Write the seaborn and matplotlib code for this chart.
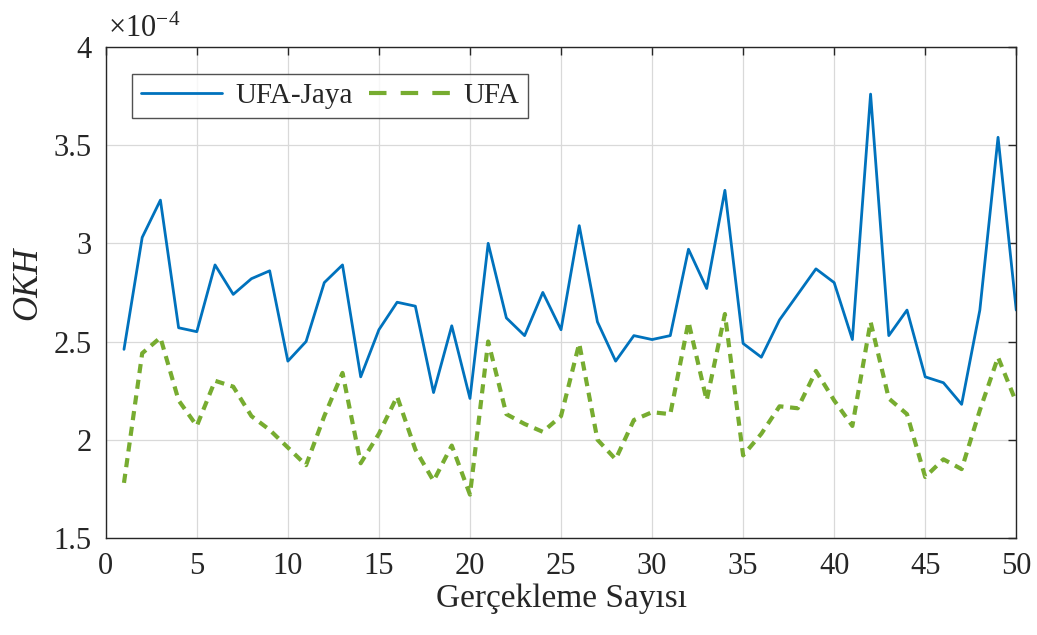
import numpy as np
import pandas as pd
import matplotlib
matplotlib.use("Agg")
import matplotlib.pyplot as plt
import seaborn as sns
from matplotlib.ticker import FuncFormatter

# ==========================================
# DATA  (OKH values, x 1e-4)
# ==========================================
runs = list(range(1, 51))

ufa_jaya = [2.46, 3.03, 3.22, 2.57, 2.55, 2.89, 2.74, 2.82, 2.86, 2.40,
            2.50, 2.80, 2.89, 2.32, 2.56, 2.70, 2.68, 2.24, 2.58, 2.21,
            3.00, 2.62, 2.53, 2.75, 2.56, 3.09, 2.60, 2.40, 2.53, 2.51,
            2.53, 2.97, 2.77, 3.27, 2.49, 2.42, 2.61, 2.74, 2.87, 2.80,
            2.51, 3.76, 2.53, 2.66, 2.32, 2.29, 2.18, 2.66, 3.54, 2.66]

ufa = [1.78, 2.44, 2.52, 2.20, 2.07, 2.30, 2.27, 2.12, 2.05, 1.96,
       1.87, 2.12, 2.34, 1.88, 2.03, 2.22, 1.95, 1.79, 1.97, 1.72,
       2.50, 2.13, 2.08, 2.04, 2.12, 2.49, 2.00, 1.90, 2.10, 2.14,
       2.13, 2.60, 2.20, 2.64, 1.92, 2.03, 2.17, 2.16, 2.35, 2.20,
       2.07, 2.60, 2.21, 2.13, 1.81, 1.90, 1.85, 2.15, 2.42, 2.19]

series_names = ["UFA-Jaya", "UFA"]
colors = {"UFA-Jaya": "#0072BD", "UFA": "#77AC30"}

df = pd.DataFrame({
    "run": runs * 2,
    "okh": ufa_jaya + ufa,
    "method": [series_names[0]] * len(runs) + [series_names[1]] * len(runs),
})

# ==========================================
# PLOT
# ==========================================
sns.set_style("white")
plt.rcParams["font.family"] = ["Liberation Serif", "DejaVu Serif"]
plt.rcParams["mathtext.fontset"] = "custom"
plt.rcParams["mathtext.rm"] = "Liberation Serif"
plt.rcParams["mathtext.it"] = "Liberation Serif:italic"

TXT = "#262626"

fig = plt.figure(figsize=(10.37, 6.35), dpi=100)
ax = fig.add_axes([0.102, 0.153, 0.878, 0.773])

sns.lineplot(data=df, x="run", y="okh", hue="method", style="method",
             hue_order=series_names, style_order=series_names,
             palette=colors, dashes={"UFA-Jaya": "", "UFA": (2.2, 1.6)},
             ax=ax, legend=False)
ax.lines[0].set_linewidth(2.0)
ax.lines[1].set_linewidth(3.0)

ax.set_xlim(0, 50)
ax.set_ylim(1.5, 4)
ax.set_xticks(np.arange(0, 51, 5))
ax.set_yticks(np.arange(1.5, 4.01, 0.5))
ax.yaxis.set_major_formatter(FuncFormatter(lambda v, p: f"{v:g}"))

ax.grid(True, color="#d9d9d9", linewidth=0.9)
ax.tick_params(direction="in", top=True, right=True, length=5.5,
               labelsize=22, colors=TXT, width=1.0, pad=10)
for s in ax.spines.values():
    s.set_color(TXT)
    s.set_linewidth(1.0)

ax.set_xlabel("Gerçekleme Sayısı", fontsize=24, color=TXT, labelpad=2)
ax.set_ylabel("OKH", fontsize=25, style="italic", color=TXT)
ax.yaxis.set_label_coords(-0.068, 0.518)

ax.text(0.002, 1.02, r"$\times 10^{-4}$", transform=ax.transAxes,
        fontsize=22, color=TXT, va="baseline", ha="left")

handles = [plt.Line2D([], [], color=colors["UFA-Jaya"], lw=2.0),
           plt.Line2D([], [], color=colors["UFA"], lw=3.0, ls=(0, (4.2, 3.4)))]
leg = ax.legend(handles, series_names, loc="upper left", ncol=2,
                bbox_to_anchor=(0.0286, 0.945), fontsize=21, frameon=True,
                fancybox=False, edgecolor=TXT, handlelength=2.8,
                columnspacing=0.55, handletextpad=0.45, borderpad=0.3,
                borderaxespad=0)
leg.get_frame().set_linewidth(1.0)
for t in leg.get_texts():
    t.set_color(TXT)

fig.savefig("out.png", dpi=100)
plt.close(fig)
